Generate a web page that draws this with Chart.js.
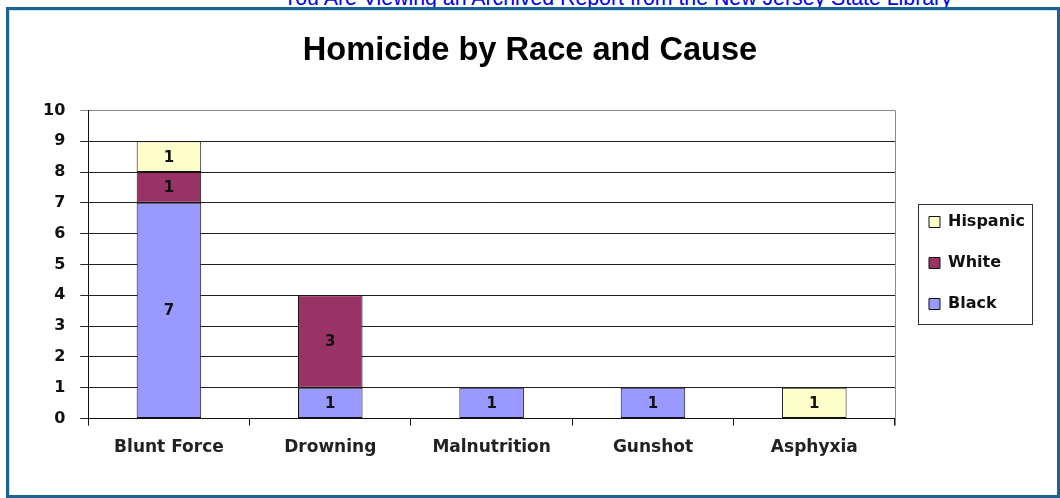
<!DOCTYPE html>
<html>
<head>
<meta charset="utf-8">
<script src="https://cdn.jsdelivr.net/npm/chart.js@4.4.1/dist/chart.umd.min.js"></script>
<style>
  html, body { margin: 0; padding: 0; background: #ffffff; width: 1060px; height: 498px; overflow: hidden; }
  #banner { position: absolute; left: 283px; top: -12px; font: 21.3px/21px "Liberation Sans", Arial, sans-serif; color: #0000EE; white-space: nowrap; }
  #frame { position: absolute; left: 6px; top: 7px; width: 1054px; height: 491px; box-sizing: border-box; border: 3px solid #1B6494; box-shadow: inset 1px 1px 0 #c4e2f2; background: #fff; }
  #wrap { position: absolute; left: 9px; top: 10px; width: 1048px; height: 485px; }
</style>
</head>
<body>
<div id="banner">You Are Viewing an Archived Report from the New Jersey State Library</div>
<div id="frame"></div>
<div id="wrap"><canvas id="c" width="1048" height="485"></canvas></div>
<script>
const chartTitle = 'Homicide by Race and Cause';
const categories = ['Blunt Force', 'Drowning', 'Malnutrition', 'Gunshot', 'Asphyxia'];
const blackValues = [7, 1, 1, 1, null];
const whiteValues = [1, 3, null, null, null];
const hispanicValues = [1, null, null, null, 1];
const seriesNames = ['Black', 'White', 'Hispanic'];
const yTickValues = [0, 1, 2, 3, 4, 5, 6, 7, 8, 9, 10];

const LEGEND_SHIFT_X = 9;
const LEGEND_SHIFT_Y = 23;
const TITLE_SHIFT_X = 3;

const valueLabels = {
  id: 'valueLabels',
  afterDatasetsDraw(chart) {
    const ctx = chart.ctx;
    ctx.save();
    ctx.font = 'bold 15px "DejaVu Sans"';
    ctx.fillStyle = '#111';
    ctx.textAlign = 'center';
    ctx.textBaseline = 'middle';
    chart.data.datasets.forEach((ds, di) => {
      const meta = chart.getDatasetMeta(di);
      meta.data.forEach((el, i) => {
        const v = ds.data[i];
        if (v === null || v === undefined) return;
        ctx.fillText(String(v), el.x, (el.y + el.base) / 2 + 1);
      });
    });
    ctx.restore();
  }
};

const frameExtras = {
  id: 'frameExtras',
  afterLayout(chart) {
    const lg = chart.legend;
    if (lg) {
      lg.left += LEGEND_SHIFT_X; lg.right += LEGEND_SHIFT_X;
      lg.top += LEGEND_SHIFT_Y; lg.bottom += LEGEND_SHIFT_Y;
    }
    const tb = chart.titleBlock;
    if (tb) { tb.left += TITLE_SHIFT_X; tb.right += TITLE_SHIFT_X; }
  },
  beforeDatasetsDraw(chart) {
    const {ctx, chartArea} = chart;
    ctx.save();
    ctx.strokeStyle = '#8a8a8a';
    ctx.lineWidth = 1;
    ctx.beginPath();
    ctx.moveTo(Math.round(chartArea.right) + 0.5, chartArea.top);
    ctx.lineTo(Math.round(chartArea.right) + 0.5, chartArea.bottom + 7);
    ctx.stroke();
    ctx.restore();
  },
  afterDraw(chart) {
    const lg = chart.legend;
    if (!lg || !lg.legendHitBoxes || !lg.legendHitBoxes.length) return;
    const hb = lg.legendHitBoxes;
    const first = hb[0], last = hb[hb.length - 1];
    const L = Math.round(first.left) - 11;
    const R = L + 114;
    const T = Math.round(first.top + first.height / 2) - 18;
    const B = Math.round(last.top + last.height / 2) + 20;
    const ctx = chart.ctx;
    ctx.save();
    ctx.strokeStyle = '#333';
    ctx.lineWidth = 1;
    ctx.strokeRect(L + 0.5, T + 0.5, R - L, B - T);
    ctx.restore();
  }
};

new Chart(document.getElementById('c'), {
  type: 'bar',
  data: {
    labels: categories,
    datasets: [
      { label: seriesNames[0], data: blackValues, backgroundColor: '#9999FF', borderColor: '#111', borderWidth: 1, borderSkipped: false },
      { label: seriesNames[1], data: whiteValues, backgroundColor: '#993366', borderColor: '#111', borderWidth: 1, borderSkipped: false },
      { label: seriesNames[2], data: hispanicValues, backgroundColor: '#FFFFCC', borderColor: '#111', borderWidth: 1, borderSkipped: false }
    ]
  },
  options: {
    responsive: false,
    animation: false,
    barPercentage: 0.4,
    categoryPercentage: 1.0,
    layout: { padding: { left: 19, right: 31, top: 0, bottom: 25 } },
    plugins: {
      title: {
        display: true,
        text: chartTitle,
        color: '#000',
        font: { family: '"Liberation Sans", Arial, sans-serif', size: 32.6, weight: 'bold' },
        padding: { top: 21, bottom: 40.3 }
      },
      legend: {
        position: 'right',
        reverse: true,
        labels: {
          color: '#111',
          font: { family: '"DejaVu Sans"', size: 16, weight: 'bold' },
          boxWidth: 11,
          boxHeight: 11,
          padding: 25
        }
      },
      tooltip: { enabled: false }
    },
    scales: {
      x: {
        stacked: true,
        grid: { display: true, drawOnChartArea: false, drawTicks: true, tickLength: 7, color: '#111', offset: true },
        border: { display: true, color: '#111', width: 1 },
        ticks: { color: '#222', font: { family: '"DejaVu Sans"', size: 17, weight: 'bold' }, padding: 12, maxRotation: 0 }
      },
      y: {
        stacked: true,
        min: 0,
        max: 10,
        afterBuildTicks(axis) { axis.ticks = yTickValues.map(v => ({ value: v })); },
        grid: {
          color: (c) => (c.tick && c.tick.value === 10) ? '#8a8a8a' : '#222',
          tickLength: 8,
          lineWidth: 1
        },
        border: { display: true, color: '#111', width: 1 },
        ticks: { color: '#111', font: { family: '"DejaVu Sans"', size: 16, weight: 'bold' }, padding: 15, stepSize: 1 }
      }
    }
  },
  plugins: [valueLabels, frameExtras]
});
</script>
</body>
</html>
